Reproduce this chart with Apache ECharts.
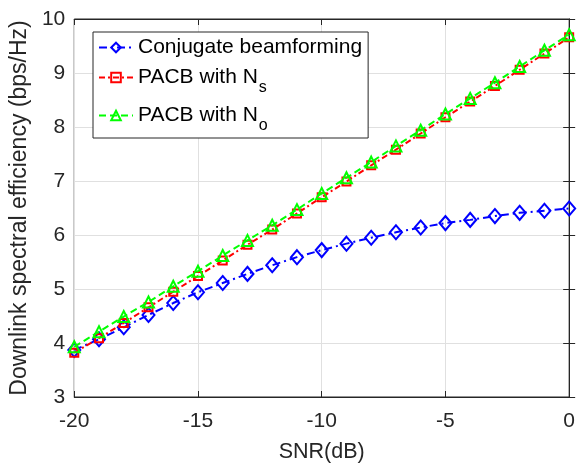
<!DOCTYPE html>
<html><head><meta charset="utf-8">
<script src="https://cdn.jsdelivr.net/npm/echarts@6/dist/echarts.min.js"></script>
<style>html,body{margin:0;padding:0;background:#fff}#c{width:578px;height:468px}</style>
</head><body><div id="c"></div>
<script>
const snr = [-20,-19,-18,-17,-16,-15,-14,-13,-12,-11,-10,-9,-8,-7,-6,-5,-4,-3,-2,-1,0];
const conjugate = [3.87,4.07,4.29,4.52,4.74,4.94,5.11,5.28,5.44,5.59,5.72,5.84,5.95,6.05,6.14,6.22,6.28,6.35,6.41,6.45,6.49];
const pacbNs = [3.82,4.09,4.37,4.66,4.95,5.24,5.53,5.82,6.10,6.40,6.70,6.99,7.29,7.58,7.88,8.18,8.47,8.76,9.06,9.36,9.66];
const pacbNo = [3.93,4.21,4.49,4.76,5.05,5.33,5.62,5.90,6.18,6.47,6.77,7.06,7.35,7.65,7.94,8.24,8.53,8.82,9.12,9.42,9.71];
const xTicks = [-20,-15,-10,-5,0];
const yTicks = [3,4,5,6,7,8,9,10];
const names = ['Conjugate beamforming','PACB with N_s','PACB with N_o'];

const pairs = arr => snr.map((x,i)=>[x,arr[i]]);
const font = 'Liberation Sans, Arial, sans-serif';
const axisCol = '#262626';
const chart = echarts.init(document.getElementById('c'));
const baseX = {type:'value',min:xTicks[0],max:xTicks[xTicks.length-1],interval:5};
const baseY = {type:'value',min:yTicks[0],max:yTicks[yTicks.length-1],interval:1};
const tick = {show:true,inside:true,length:6,lineStyle:{color:axisCol}};
const clear = 'rgba(255,255,255,0)';
chart.setOption({
  animation:false,
  grid:{left:71,right:6,top:19,bottom:69,show:true,borderColor:axisCol,borderWidth:1},
  xAxis:[
    Object.assign({},baseX,{position:'bottom',name:'SNR(dB)',nameLocation:'middle',nameGap:44,
      nameTextStyle:{fontFamily:font,fontSize:21.5,color:axisCol},
      axisLine:{show:true,lineStyle:{color:axisCol}},
      axisTick:tick,
      axisLabel:{fontFamily:font,fontSize:21,color:axisCol,margin:14},
      splitLine:{show:true,lineStyle:{color:'#e0e0e0'}}}),
    Object.assign({},baseX,{position:'top',
      axisLine:{show:true,lineStyle:{color:axisCol}},
      axisTick:tick,axisLabel:{show:false},splitLine:{show:false}})
  ],
  yAxis:[
    Object.assign({},baseY,{position:'left',name:'Downlink spectral efficiency (bps/Hz)',nameLocation:'middle',nameGap:40,
      nameTextStyle:{fontFamily:font,fontSize:23,color:axisCol},
      axisLine:{show:true,lineStyle:{color:axisCol}},
      axisTick:tick,
      axisLabel:{fontFamily:font,fontSize:21,color:axisCol,margin:9},
      splitLine:{show:true,lineStyle:{color:'#e0e0e0'}}}),
    Object.assign({},baseY,{position:'right',
      axisLine:{show:true,lineStyle:{color:axisCol}},
      axisTick:tick,axisLabel:{show:false},splitLine:{show:false}})
  ],
  legend:{
    orient:'vertical',left:93,top:32,
    backgroundColor:'#fff',borderColor:axisCol,borderWidth:1,borderRadius:0,
    padding:[5,6,4,5],itemGap:1,itemWidth:34,itemHeight:12,
    data:names,
    formatter:function(n){
      const m = n.match(/^(.*)_(\w)$/);
      if(m) return '{a|'+m[1]+'}{s|'+m[2]+'}';
      return '{a|'+n+'}';
    },
    textStyle:{fontFamily:font,fontSize:21,color:'#000',
      rich:{a:{fontFamily:font,fontSize:21,color:'#000',lineHeight:24},
            s:{fontFamily:font,fontSize:16,color:'#000',lineHeight:16,padding:[21,0,0,1]}}}
  },
  series:[
    {name:names[0],type:'line',data:pairs(conjugate),symbol:'diamond',symbolSize:[12,14],
      itemStyle:{color:clear,borderColor:'#0000ff',borderWidth:2},lineStyle:{color:'#0000ff',width:2,type:[8,4,2,4]},z:3},
    {name:names[1],type:'line',data:pairs(pacbNs),symbol:'rect',symbolSize:8,
      itemStyle:{color:clear,borderColor:'#ff0000',borderWidth:2},lineStyle:{color:'#ff0000',width:2,type:[6,3,2,3]},z:4},
    {name:names[2],type:'line',data:pairs(pacbNo),symbol:'triangle',symbolSize:11,
      itemStyle:{color:clear,borderColor:'#00ff00',borderWidth:2},lineStyle:{color:'#00ff00',width:2,type:[7,4]},z:5}
  ]
});
</script></body></html>
